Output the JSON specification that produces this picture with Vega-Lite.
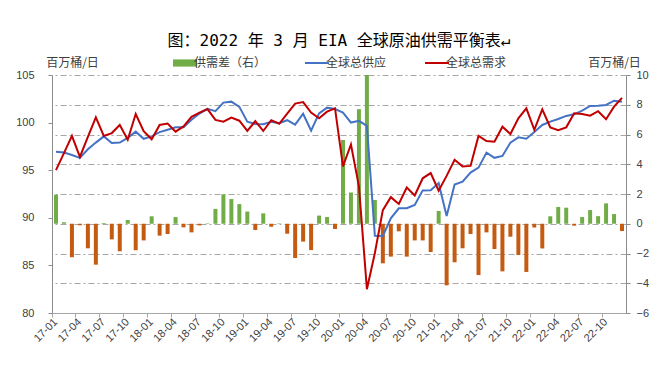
{
  "$schema": "https://vega.github.io/schema/vega-lite/v6.json",
  "width": 574,
  "height": 238,
  "autosize": {"type": "none"},
  "padding": {"left": 52, "top": 75, "right": 43, "bottom": 62},
  "background": "white",
  "config": {
    "view": {"stroke": null},
    "font": "Noto Sans CJK SC"
  },
  "title": {
    "text": "图：2022 年 3 月 EIA 全球原油供需平衡表↵",
    "font": "DejaVu Sans Mono, Noto Sans CJK SC",
    "fontSize": 16,
    "fontWeight": "normal",
    "color": "#000000",
    "anchor": "middle",
    "frame": "group",
    "offset": 7
  },
  "data": {
    "values": [
      {"m": "17-01", "supply": 96.95, "demand": 95.0, "gap": 1.95},
      {"m": "17-02", "supply": 96.85, "demand": 96.8, "gap": 0.1},
      {"m": "17-03", "supply": 96.6, "demand": 98.6, "gap": -2.25},
      {"m": "17-04", "supply": 96.3, "demand": 96.4, "gap": -0.1},
      {"m": "17-05", "supply": 97.2, "demand": 98.5, "gap": -1.65},
      {"m": "17-06", "supply": 97.9, "demand": 100.55, "gap": -2.75},
      {"m": "17-07", "supply": 98.55, "demand": 98.6, "gap": 0.05},
      {"m": "17-08", "supply": 97.85, "demand": 98.9, "gap": -1.05},
      {"m": "17-09", "supply": 97.9, "demand": 99.75, "gap": -1.85},
      {"m": "17-10", "supply": 98.4, "demand": 98.2, "gap": 0.25},
      {"m": "17-11", "supply": 99.05, "demand": 100.9, "gap": -1.78},
      {"m": "17-12", "supply": 98.3, "demand": 99.1, "gap": -1.12},
      {"m": "18-01", "supply": 98.55, "demand": 98.25, "gap": 0.5},
      {"m": "18-02", "supply": 99.0, "demand": 99.75, "gap": -0.8},
      {"m": "18-03", "supply": 99.25, "demand": 99.9, "gap": -0.69},
      {"m": "18-04", "supply": 99.5, "demand": 99.05, "gap": 0.45},
      {"m": "18-05", "supply": 99.5, "demand": 99.6, "gap": -0.24},
      {"m": "18-06", "supply": 100.3, "demand": 100.6, "gap": -0.58},
      {"m": "18-07", "supply": 100.95, "demand": 101.05, "gap": -0.11},
      {"m": "18-08", "supply": 101.45, "demand": 101.42, "gap": 0.03},
      {"m": "18-09", "supply": 101.2, "demand": 100.28, "gap": 1.0},
      {"m": "18-10", "supply": 102.1, "demand": 100.1, "gap": 1.98},
      {"m": "18-11", "supply": 102.2, "demand": 100.53, "gap": 1.66},
      {"m": "18-12", "supply": 101.65, "demand": 100.2, "gap": 1.32},
      {"m": "19-01", "supply": 100.1, "demand": 99.12, "gap": 0.82},
      {"m": "19-02", "supply": 99.85, "demand": 100.15, "gap": -0.42},
      {"m": "19-03", "supply": 99.82, "demand": 99.12, "gap": 0.7},
      {"m": "19-04", "supply": 100.08, "demand": 100.26, "gap": -0.2},
      {"m": "19-05", "supply": 99.93, "demand": 99.88, "gap": 0.03},
      {"m": "19-06", "supply": 100.25, "demand": 100.95, "gap": -0.67},
      {"m": "19-07", "supply": 99.78, "demand": 102.0, "gap": -2.3},
      {"m": "19-08", "supply": 100.93, "demand": 102.15, "gap": -1.2},
      {"m": "19-09", "supply": 99.15, "demand": 101.05, "gap": -1.77},
      {"m": "19-10", "supply": 100.97, "demand": 100.45, "gap": 0.55},
      {"m": "19-11", "supply": 101.57, "demand": 101.15, "gap": 0.45},
      {"m": "19-12", "supply": 101.42, "demand": 101.5, "gap": -0.35},
      {"m": "20-01", "supply": 101.05, "demand": 95.4, "gap": 5.63},
      {"m": "20-02", "supply": 100.0, "demand": 97.7, "gap": 2.1},
      {"m": "20-03", "supply": 100.18, "demand": 93.3, "gap": 7.7},
      {"m": "20-04", "supply": 99.65, "demand": 82.5, "gap": 10.0},
      {"m": "20-05", "supply": 88.12, "demand": 86.3, "gap": 1.6},
      {"m": "20-06", "supply": 88.1, "demand": 90.8, "gap": -2.66},
      {"m": "20-07", "supply": 89.95, "demand": 92.17, "gap": -2.21},
      {"m": "20-08", "supply": 91.0, "demand": 91.45, "gap": -0.51},
      {"m": "20-09", "supply": 91.0, "demand": 93.18, "gap": -2.21},
      {"m": "20-10", "supply": 91.35, "demand": 92.35, "gap": -1.12},
      {"m": "20-11", "supply": 92.88, "demand": 94.15, "gap": -1.12},
      {"m": "20-12", "supply": 92.9, "demand": 94.7, "gap": -1.9},
      {"m": "21-01", "supply": 93.65, "demand": 92.85, "gap": 0.86},
      {"m": "21-02", "supply": 90.2, "demand": 94.4, "gap": -4.14},
      {"m": "21-03", "supply": 93.5, "demand": 96.1, "gap": -2.59},
      {"m": "21-04", "supply": 93.8, "demand": 95.4, "gap": -1.65},
      {"m": "21-05", "supply": 94.75, "demand": 95.45, "gap": -0.69},
      {"m": "21-06", "supply": 95.27, "demand": 98.6, "gap": -3.45},
      {"m": "21-07", "supply": 96.85, "demand": 98.07, "gap": -0.58},
      {"m": "21-08", "supply": 96.3, "demand": 98.0, "gap": -1.7},
      {"m": "21-09", "supply": 96.5, "demand": 99.57, "gap": -3.2},
      {"m": "21-10", "supply": 97.9, "demand": 98.8, "gap": -0.87},
      {"m": "21-11", "supply": 98.45, "demand": 100.45, "gap": -2.1},
      {"m": "21-12", "supply": 98.3, "demand": 101.5, "gap": -3.24},
      {"m": "22-01", "supply": 99.02, "demand": 99.25, "gap": -0.25},
      {"m": "22-02", "supply": 99.75, "demand": 101.4, "gap": -1.66},
      {"m": "22-03", "supply": 100.1, "demand": 99.5, "gap": 0.5},
      {"m": "22-04", "supply": 100.38, "demand": 99.2, "gap": 1.13},
      {"m": "22-05", "supply": 100.7, "demand": 99.5, "gap": 1.08},
      {"m": "22-06", "supply": 100.87, "demand": 100.97, "gap": -0.13},
      {"m": "22-07", "supply": 101.25, "demand": 100.9, "gap": 0.45},
      {"m": "22-08", "supply": 101.75, "demand": 100.73, "gap": 0.92},
      {"m": "22-09", "supply": 101.77, "demand": 101.2, "gap": 0.51},
      {"m": "22-10", "supply": 101.85, "demand": 100.35, "gap": 1.37},
      {"m": "22-11", "supply": 102.3, "demand": 101.67, "gap": 0.65},
      {"m": "22-12", "supply": 102.2, "demand": 102.6, "gap": -0.49}
    ]
  },
  "encoding": {
    "x": {
      "field": "m",
      "type": "ordinal",
      "scale": {
        "type": "band",
        "paddingInner": 0,
        "paddingOuter": 0,
        "domain": ["17-01","17-02","17-03","17-04","17-05","17-06","17-07","17-08","17-09","17-10","17-11","17-12","18-01","18-02","18-03","18-04","18-05","18-06","18-07","18-08","18-09","18-10","18-11","18-12","19-01","19-02","19-03","19-04","19-05","19-06","19-07","19-08","19-09","19-10","19-11","19-12","20-01","20-02","20-03","20-04","20-05","20-06","20-07","20-08","20-09","20-10","20-11","20-12","21-01","21-02","21-03","21-04","21-05","21-06","21-07","21-08","21-09","21-10","21-11","21-12","22-01","22-02","22-03","22-04","22-05","22-06","22-07","22-08","22-09","22-10","22-11","22-12"]
      },
      "axis": {
        "title": null,
        "values": ["17-01","17-04","17-07","17-10","18-01","18-04","18-07","18-10","19-01","19-04","19-07","19-10","20-01","20-04","20-07","20-10","21-01","21-04","21-07","21-10","22-01","22-04","22-07","22-10"],
        "bandPosition": 0,
        "labelAngle": -45,
        "labelAlign": "right",
        "labelBaseline": "middle",
        "labelOverlap": false,
        "labelFont": "Liberation Sans",
        "labelFontSize": 11,
        "labelColor": "#404040",
        "labelPadding": 3,
        "domainColor": "#A6A6A6",
        "tickColor": "#A6A6A6",
        "tickSize": 4,
        "grid": false
      }
    }
  },
  "layer": [
    {
      "encoding": {
        "y": {
          "field": "gap",
          "type": "quantitative",
          "scale": {"domain": [-6, 10], "nice": false, "zero": true},
          "axis": {
            "orient": "right",
            "values": [-6, -4, -2, 0, 2, 4, 6, 8, 10],
            "title": "百万桶/日",
            "titleAngle": 0,
            "titleX": -12,
            "titleY": -13,
            "titleAlign": "center",
            "titleBaseline": "middle",
            "titleFont": "Noto Sans CJK SC",
            "titleFontSize": 12,
            "titleFontWeight": "normal",
            "titleColor": "#404040",
            "labelFont": "Liberation Sans",
            "labelFontSize": 11,
            "labelColor": "#404040",
            "labelPadding": 6,
            "tickSize": 4,
            "tickColor": "#8C8C8C",
            "domainColor": "#8C8C8C",
            "grid": true,
            "gridColor": "#A6A6A6",
            "gridDash": [6, 3, 2, 3],
            "gridWidth": 1
          }
        }
      },
      "layer": [
        {
          "transform": [{"filter": "datum.gap >= 0"}],
          "mark": {"type": "bar", "width": {"band": 0.5}},
          "encoding": {
            "color": {
              "datum": "供需差（右）",
              "scale": {
                "domain": ["供需差（右）", "全球总供应", "全球总需求"],
                "range": ["#70AD47", "#4472C4", "#C00000"]
              },
              "legend": {
                "orient": "none",
                "legendX": 127,
                "legendY": -18,
                "direction": "horizontal",
                "title": null,
                "labelFont": "Noto Sans CJK SC",
                "labelFontSize": 12,
                "labelColor": "#404040",
                "labelOffset": 3,
                "symbolSize": 576,
                "columnPadding": 34,
                "encode": {
                  "symbols": {
                    "update": {
                      "shape": {"signal": "datum.value === '供需差（右）' ? 'M-1,-0.3H1V0.3H-1Z' : 'M-1,0H1'"},
                      "fill": {"signal": "datum.value === '供需差（右）' ? '#70AD47' : 'transparent'"},
                      "stroke": {"signal": "datum.value === '供需差（右）' ? '#70AD47' : (datum.value === '全球总供应' ? '#4472C4' : '#C00000')"},
                      "strokeWidth": {"signal": "datum.value === '供需差（右）' ? 0 : 2"},
                      "opacity": {"value": 1}
                    }
                  }
                }
              }
            }
          }
        },
        {
          "transform": [{"filter": "datum.gap < 0"}],
          "mark": {"type": "bar", "width": {"band": 0.5}, "color": "#C55A11"}
        }
      ]
    },
    {
      "encoding": {
        "y": {
          "type": "quantitative",
          "scale": {"domain": [80, 105], "nice": false, "zero": false},
          "axis": {
            "orient": "left",
            "values": [80, 85, 90, 95, 100, 105],
            "title": "百万桶/日",
            "titleAngle": 0,
            "titleX": 20,
            "titleY": -13,
            "titleAlign": "center",
            "titleBaseline": "middle",
            "titleFont": "Noto Sans CJK SC",
            "titleFontSize": 12,
            "titleFontWeight": "normal",
            "titleColor": "#404040",
            "labelFont": "Liberation Sans",
            "labelFontSize": 11,
            "labelColor": "#404040",
            "labelPadding": 14,
            "tickSize": 4,
            "tickColor": "#8C8C8C",
            "domainColor": "#8C8C8C",
            "grid": false
          }
        }
      },
      "layer": [
        {
          "mark": {"type": "line", "strokeWidth": 2},
          "encoding": {
            "x": {"field": "m", "type": "ordinal", "bandPosition": 0.5},
            "y": {"field": "supply", "type": "quantitative"},
            "color": {"datum": "全球总供应"}
          }
        },
        {
          "mark": {"type": "line", "strokeWidth": 2},
          "encoding": {
            "x": {"field": "m", "type": "ordinal", "bandPosition": 0.5},
            "y": {"field": "demand", "type": "quantitative"},
            "color": {"datum": "全球总需求"}
          }
        }
      ]
    }
  ],
  "resolve": {"scale": {"y": "independent"}}
}
